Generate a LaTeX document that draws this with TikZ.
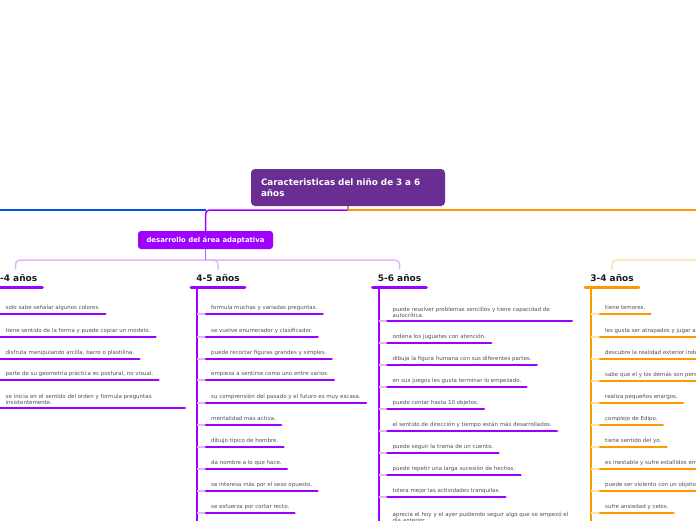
\documentclass[tikz,border=0pt]{standalone}
\usepackage{fontspec}
\setmainfont{DejaVu Sans}
\usetikzlibrary{calc}
\definecolor{titleViolet}{HTML}{6A2D91}
\definecolor{areaViolet}{HTML}{9E00FF}
\definecolor{stemViolet}{HTML}{B05CFF}
\definecolor{lightViolet}{HTML}{E2B6FF}
\definecolor{mapOrange}{HTML}{FF9900}
\definecolor{lightOrange}{HTML}{FFE2B5}
\definecolor{mapBlue}{HTML}{0050F5}
\definecolor{stubBrown}{HTML}{D0805F}
\definecolor{ageBlack}{HTML}{1A1A1A}
\definecolor{itemGray}{HTML}{505050}

\begin{document}
\begin{tikzpicture}[x=1pt, y=-1pt,
	title/.style={fill=titleViolet, rounded corners=4pt, text=white, text width=174pt, inner xsep=10pt, align=left, minimum height=37pt, font=\fontsize{8.8}{11}\selectfont\bfseries},
	area/.style={fill=areaViolet, rounded corners=3pt, text=white, minimum width=135pt, minimum height=18pt, inner sep=0pt, font=\fontsize{6.9}{8}\selectfont\bfseries},
	age/.style={anchor=south, inner xsep=5pt, inner ysep=0pt, minimum height=17pt, text=ageBlack, font=\fontsize{9}{10}\selectfont\bfseries},
	item/.style={anchor=south west, inner xsep=5pt, inner ysep=3pt, text depth=1.4pt, align=left, text=itemGray, font=\fontsize{5.5}{6.4}\selectfont},
	wideitem/.style={item, text depth=, text width=174pt},
	underline/.style={line width=2.6pt, line cap=round},
	trunk/.style={line width=2pt},
	twig/.style={line width=1.2pt},
	branch/.style={line width=1.5pt, rounded corners=4pt},
]
	\useasboundingbox (0,0) rectangle (696,520);
	\clip (0,0) rectangle (696,520);

	% main topic
	\node[title] (title) at (348,187.5) {Caracteristicas del niño de 3 a 6\\años};
	\coordinate (hub) at (348,210);
	\node[area] (area) at (205.5,240) {desarrollo del área adaptativa};

	% branches off the main topic (the blue and the orange ones run out of the picture)
	\coordinate (blueStart) at (area.north |- hub);
	\coordinate (blueEnd) at (-20,210);
	\coordinate (orangeEnd) at (720,210);
	\draw[branch, mapBlue] (blueStart) -- (blueEnd);
	\draw[branch, mapOrange] (hub) -- (orangeEnd);
	\draw[branch, areaViolet] (hub) -| (area.north);
	\draw[line width=1.5pt, stubBrown] (title.south) -- (hub);

	% age groups
	\def\colA{-8.5}
	\def\colB{197}
	\def\colC{378.5}
	\def\colD{591}
	\node[age] (ageA) at ({\colA+24},287) {3-4 años};
	\node[age] (ageB) at ({\colB+21},287) {4-5 años};
	\node[age] (ageC) at ({\colC+21},287) {5-6 años};
	\node[age] (ageD) at ({\colD+21},287) {3-4 años};

	\coordinate (areaHub) at ($(area.south)+(0,11)$);
	\coordinate (orangeHub) at (720,260);
	\draw[branch, lightViolet] (areaHub) -| (ageA.north);
	\draw[branch, lightViolet] (areaHub) -| (ageB.north);
	\draw[branch, lightViolet] (areaHub) -| (ageC.north);
	\draw[branch, lightOrange] (orangeHub) -| (ageD.north);
	\draw[line width=1.5pt, stemViolet] (area.south) -- (areaHub);

	\draw[underline, line width=3pt, areaViolet] (ageA.south west) -- (ageA.south east);
	\draw[underline, line width=3pt, areaViolet] (ageB.south west) -- (ageB.south east);
	\draw[underline, line width=3pt, areaViolet] (ageC.south west) -- (ageC.south east);
	\draw[underline, line width=3pt, mapOrange] (ageD.south west) -- (ageD.south east);

	% trunks
	\coordinate (trunkA) at ({\colA},287);
	\coordinate (trunkB) at ({\colB},287);
	\coordinate (trunkC) at ({\colC},287);
	\coordinate (trunkD) at ({\colD},287);
	\coordinate (trunkAend) at ({\colA},530);
	\coordinate (trunkBend) at ({\colB},530);
	\coordinate (trunkCend) at ({\colC},530);
	\coordinate (trunkDend) at ({\colD},530);
	\draw[trunk, areaViolet] (trunkA) -- (trunkAend);
	\draw[trunk, areaViolet] (trunkB) -- (trunkBend);
	\draw[trunk, areaViolet] (trunkC) -- (trunkCend);
	\draw[trunk, mapOrange] (trunkD) -- (trunkDend);

	% 3-4 años
	\foreach \y/\txt [count=\i] in {
		314/{solo sabe señalar algunos colores.},
		337/{tiene sentido de la forma y puede copiar un modelo.},
		359/{disfruta manipulando arcilla, barro o plastilina.},
		380/{parte de su geometría práctica es postural, no visual.}} {
		\node[item] (a\i) at ({\colA+9},\y) {\txt};
		\draw[twig, lightViolet] (trunkA |- a\i.south west) -- (a\i.south west);
		\draw[underline, areaViolet] (a\i.south west) -- (a\i.south east);
	}
	\node[wideitem] (a5) at ({\colA+9},408) {se inicia en el sentido del orden y formula preguntas\\insistentemente.};
	\draw[twig, lightViolet] (trunkA |- a5.south west) -- (a5.south west);
	\draw[underline, areaViolet] (a5.south west) -- (a5.south east);

	% 4-5 años
	\foreach \y/\txt [count=\i] in {
		314/{formula muchas y variadas preguntas.},
		337/{se vuelve enumerador y clasificador.},
		359/{puede recortar figuras grandes y simples.},
		380/{empieza a sentirse como uno entre varios.},
		403/{su comprensión del pasado y el futuro es muy escasa.},
		425/{mentalidad más activa.},
		447/{dibujo típico de hombre.},
		469/{da nombre a lo que hace.},
		491/{se interesa más por el sexo opuesto.},
		513/{se esfuerza por cortar recto.}} {
		\node[item] (b\i) at ({\colB+9},\y) {\txt};
		\draw[twig, lightViolet] (trunkB |- b\i.south west) -- (b\i.south west);
		\draw[underline, areaViolet] (b\i.south west) -- (b\i.south east);
	}

	% 5-6 años
	\node[wideitem] (c1) at ({\colC+9},321) {puede resolver problemas sencillos y tiene capacidad de\\autocrítica.};
	\draw[twig, lightViolet] (trunkC |- c1.south west) -- (c1.south west);
	\draw[underline, areaViolet] (c1.south west) -- (c1.south east);
	\foreach \y/\txt [count=\i from 2] in {
		343/{ordena los juguetes con atención.},
		365/{dibuja la figura humana con sus diferentes partes.},
		387/{en sus juegos les gusta terminar lo empezado.},
		409/{puede contar hasta 10 objetos.},
		431/{el sentido de dirección y tiempo están más desarrollados.},
		453/{puede seguir la trama de un cuento.},
		475/{puede repetir una larga sucesión de hechos.},
		497/{tolera mejor las actividades tranquilas.}} {
		\node[item] (c\i) at ({\colC+9},\y) {\txt};
		\draw[twig, lightViolet] (trunkC |- c\i.south west) -- (c\i.south west);
		\draw[underline, areaViolet] (c\i.south west) -- (c\i.south east);
	}
	\node[wideitem, text width=186pt] (c10) at ({\colC+9},526) {aprecia el hoy y el ayer pudiendo seguir algo que se empezó el\\día anterior.};
	\draw[twig, lightViolet] (trunkC |- c10.south west) -- (c10.south west);
	\draw[underline, areaViolet] (c10.south west) -- (c10.south east);

	% 3-4 años, orange side
	\foreach \y/\txt [count=\i] in {
		314/{tiene temores.},
		337/{les gusta ser atrapados y jugar a las escondidas.},
		359/{descubre la realidad exterior independiente de él.},
		381/{sabe que el y los demás son personas distintas.},
		403/{realiza pequeños enargos.},
		425/{complejo de Edipo.},
		447/{tiene sentido del yo.},
		469/{es inestable y sufre estallidos emocionales.},
		491/{puede ser violento con un objeto.},
		513/{sufre ansiedad y celos.}} {
		\node[item] (d\i) at ({\colD+9},\y) {\txt};
		\draw[twig, lightOrange] (trunkD |- d\i.south west) -- (d\i.south west);
		\draw[underline, mapOrange] (d\i.south west) -- (d\i.south east);
	}

\end{tikzpicture}
\end{document}
